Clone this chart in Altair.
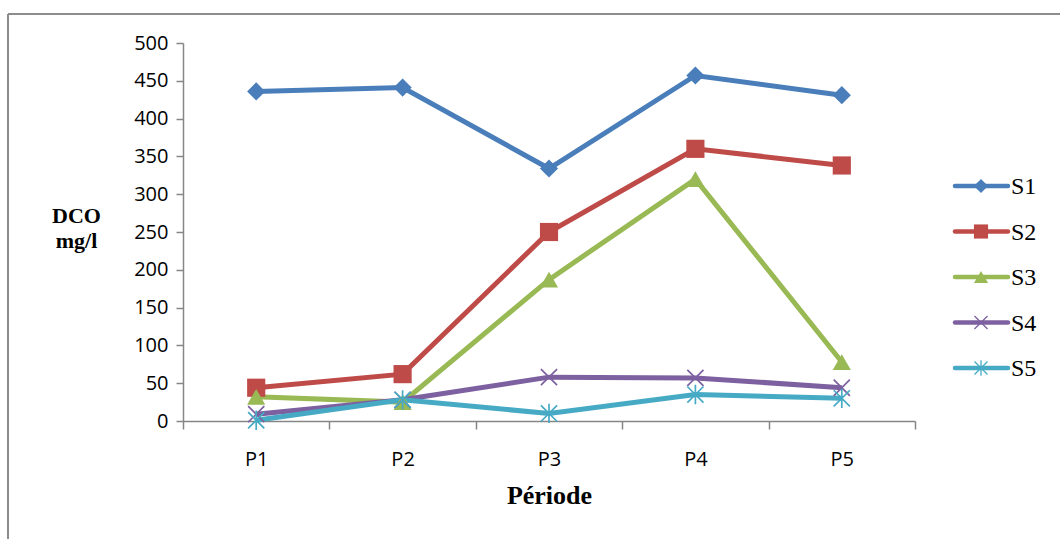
import altair as alt
import pandas as pd

periods = ["P1", "P2", "P3", "P4", "P5"]
series = ["S1", "S2", "S3", "S4", "S5"]
s1 = [436, 441, 334, 457, 431]
s2 = [44, 62, 250, 360, 338]
s3 = [32, 25, 187, 320, 78]
s4 = [9, 28, 58, 57, 44]
s5 = [1, 28, 10, 35, 30]
colors = ["#4A7EBB", "#BE4B48", "#98B954", "#7D60A0", "#46AAC5"]
y_ticks = list(range(0, 501, 50))

values = [s1, s2, s3, s4, s5]
rows = []
for name, vals in zip(series, values):
    for p, v in zip(periods, vals):
        rows.append({"period": p, "series": name, "value": v})
df = pd.DataFrame(rows)

X_SHAPE = "M-1,-1L1,1M-1,1L1,-1"
STAR_SHAPE = "M-1,-1L1,1M-1,1L1,-1M0,-1.2L0,1.2"
shapes = ["diamond", "square", "triangle-up", X_SHAPE, STAR_SHAPE]

color_scale = alt.Scale(domain=series, range=colors)
shape_scale = alt.Scale(domain=series, range=shapes)

LABEL_FONT = "Open Sans"

x_enc = alt.X(
    "period:O",
    scale=alt.Scale(type="band", domain=periods, paddingInner=0, paddingOuter=0),
    bandPosition=0.5,
    axis=alt.Axis(
        title="Période",
        tickBand="extent",
        labelAngle=0,
        labelFont=LABEL_FONT,
        labelFontSize=20,
        labelColor="#000000",
        labelPadding=20,
        tickSize=8,
        tickColor="#868686",
        tickWidth=1.5,
        domainColor="#868686",
        domainWidth=1.5,
        titleFont="Liberation Serif",
        titleFontWeight="bold",
        titleFontSize=26,
        titleColor="#000000",
        titleY=82,
        titleBaseline="alphabetic",
    ),
)
y_enc = alt.Y(
    "value:Q",
    scale=alt.Scale(domain=[0, 500], nice=False),
    axis=alt.Axis(
        values=y_ticks,
        grid=False,
        title=["DCO", "mg/l"],
        titleAngle=0,
        titleAlign="center",
        titleX=-107,
        titleY=179,
        titleBaseline="alphabetic",
        titleFont="Liberation Serif",
        titleFontWeight="bold",
        titleFontSize=22,
        titleLineHeight=25,
        titleColor="#000000",
        labelFont=LABEL_FONT,
        labelFontSize=20,
        labelColor="#000000",
        labelPadding=8,
        tickSize=7,
        tickColor="#868686",
        tickWidth=1.5,
        domainColor="#868686",
        domainWidth=1.5,
    ),
)
color_enc = alt.Color("series:N", scale=color_scale, legend=None)
shape_enc = alt.Shape("series:N", scale=shape_scale, legend=None)

base = alt.Chart(df)
lines = base.mark_line(strokeWidth=5).encode(x=x_enc, y=y_enc, color=color_enc, detail="series:N")
filled_pts = base.transform_filter(
    alt.FieldOneOfPredicate(field="series", oneOf=series[:3])
).mark_point(filled=True, size=330, opacity=1).encode(x=x_enc, y=y_enc, color=color_enc, shape=shape_enc)
stroked_pts = base.transform_filter(
    alt.FieldOneOfPredicate(field="series", oneOf=series[3:])
).mark_point(filled=False, size=260, strokeWidth=1.7, opacity=1).encode(x=x_enc, y=y_enc, color=color_enc, shape=shape_enc)
main = alt.layer(lines, filled_pts, stroked_pts)

# custom legend
leg = pd.DataFrame({"series": series})
leg_y = alt.Y("series:N", scale=alt.Scale(type="point", domain=series, range=[143, 325], padding=0), axis=None)
leg_base = alt.Chart(leg)
leg_line = leg_base.mark_rule(strokeWidth=4.5, strokeCap="round").encode(
    x=alt.value(772), x2=alt.value(825), y=leg_y, color=color_enc)
leg_fill = leg_base.transform_filter(
    alt.FieldOneOfPredicate(field="series", oneOf=series[:3])
).mark_point(filled=True, size=200, opacity=1).encode(x=alt.value(798), y=leg_y, color=color_enc, shape=shape_enc)
leg_stroke = leg_base.transform_filter(
    alt.FieldOneOfPredicate(field="series", oneOf=series[3:])
).mark_point(filled=False, size=170, strokeWidth=1.3, opacity=1).encode(x=alt.value(798), y=leg_y, color=color_enc, shape=shape_enc)
leg_text = leg_base.mark_text(align="left", baseline="middle", font="Liberation Serif", fontSize=24, color="#000000", dy=1).encode(
    x=alt.value(828), y=leg_y, text="series:N")
legend = alt.layer(leg_line, leg_fill, leg_stroke, leg_text)

# outer frame (decoration)
frame_df = pd.DataFrame({"k": [0]})
frame_left = alt.Chart(frame_df).mark_rule(color="#8C8C8C", strokeWidth=2).encode(
    x=alt.value(-175), y=alt.value(-29), y2=alt.value(600))
frame_top = alt.Chart(frame_df).mark_rule(color="#8C8C8C", strokeWidth=2).encode(
    x=alt.value(-175), x2=alt.value(1000), y=alt.value(-29))

chart = alt.layer(
    frame_left, frame_top, main, legend,
).resolve_scale(y="independent").properties(
    width=732,
    height=378,
    autosize=alt.AutoSizeParams(type="none"),
    padding={"left": 183, "top": 43, "right": 145, "bottom": 118},
    background="#FFFFFF",
).configure_view(stroke=None)

chart.save("out.html", embed_options={"renderer": "svg", "actions": False})
